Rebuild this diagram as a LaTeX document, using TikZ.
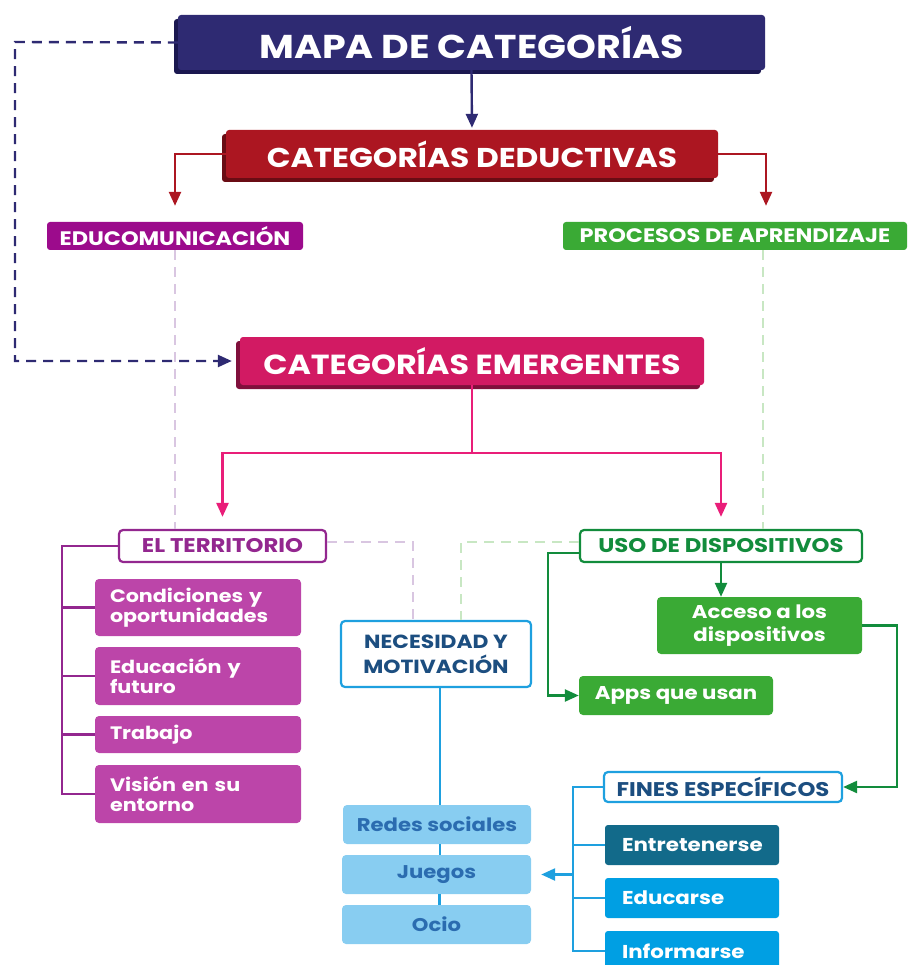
\documentclass[tikz,border=0pt]{standalone}
\usepackage{fontspec}
\setmainfont{Poppins}[FakeStretch=1.15]
\usetikzlibrary{arrows.meta,shadows,calc}
\definecolor{navy}{HTML}{2E2A72}
\definecolor{navyd}{HTML}{1B1850}
\definecolor{dred}{HTML}{AC1621}
\definecolor{dredd}{HTML}{6A0C14}
\definecolor{pinkbox}{HTML}{D21A63}
\definecolor{pinkboxd}{HTML}{80103C}
\definecolor{pinkline}{HTML}{E91E79}
\definecolor{edupurple}{HTML}{9C0B8C}
\definecolor{lgreen}{HTML}{3AAA35}
\definecolor{dgreen}{HTML}{128C3C}
\definecolor{lpurdash}{HTML}{D9C6E1}
\definecolor{lgrndash}{HTML}{C8E7C3}
\definecolor{orchid}{HTML}{BC45A9}
\definecolor{terrpur}{HTML}{93278F}
\definecolor{bline}{HTML}{1EA0DF}
\definecolor{dbtext}{HTML}{1C4E80}
\definecolor{lbfill}{HTML}{88CDF1}
\definecolor{lbtext}{HTML}{2B6CB0}
\definecolor{teal}{HTML}{126A8A}
\definecolor{bfill}{HTML}{009FE3}
\tikzset{
  bigbox/.style={rounded corners=3pt, text=white, inner sep=0pt},
  catbox/.style={rounded corners=3pt, text=white, font=\fontsize{19.5}{22}\selectfont\bfseries, inner sep=0pt},
  outbox/.style={rounded corners=4pt, fill=white, line width=2.2pt, font=\fontsize{19.8}{22}\selectfont\bfseries, inner sep=0pt},
  itembox/.style={rounded corners=4pt, fill=orchid, text=white, font=\fontsize{18}{20}\selectfont\bfseries, align=left, inner xsep=15pt, inner ysep=0pt},
  gbox/.style={rounded corners=4pt, fill=lgreen, text=white, font=\fontsize{18.5}{23}\selectfont\bfseries, align=center, inner sep=0pt},
  lbbox/.style={rounded corners=4pt, fill=lbfill, text=lbtext, font=\fontsize{18.4}{20}\selectfont\bfseries, inner sep=0pt},
  bbox/.style={rounded corners=3pt, text=white, font=\fontsize{18.6}{20}\selectfont\bfseries, align=left, inner xsep=17pt, inner ysep=0pt},
  conn/.style={line width=2.4pt},
  tip/.style={-{Triangle[width=12pt,length=14pt]}},
  dashd/.style={line width=2.4pt, dash pattern=on 10pt off 7pt},
}
\begin{document}
\begin{tikzpicture}[x=1pt,y=-1pt]
\useasboundingbox (0,0) rectangle (907,965);
% big boxes
\node[bigbox, fill=navy, minimum width=587pt, minimum height=55pt, font=\fontsize{33}{36}\selectfont\bfseries, general shadow={fill=navyd, shadow xshift=-4pt, shadow yshift=-4pt}] (title) at (471.5,42.5) {MAPA DE CATEGORÍAS};
\node[bigbox, fill=dred, minimum width=492pt, minimum height=48pt, font=\fontsize{27.2}{30}\selectfont\bfseries, general shadow={fill=dredd, shadow xshift=-4pt, shadow yshift=-4pt}] (ded) at (472,154) {CATEGORÍAS DEDUCTIVAS};
\node[bigbox, fill=pinkbox, minimum width=464pt, minimum height=48pt, font=\fontsize{27.6}{30}\selectfont\bfseries, general shadow={fill=pinkboxd, shadow xshift=-4pt, shadow yshift=-4pt}] (emer) at (472,361) {CATEGORÍAS EMERGENTES};
% category boxes
\node[catbox, fill=edupurple, minimum width=256pt, minimum height=28pt] (edu) at (175,236) {EDUCOMUNICACIÓN};
\node[catbox, fill=lgreen, minimum width=344pt, minimum height=28pt] (proc) at (735,236) {PROCESOS DE APRENDIZAJE};
% outlined boxes
\node[outbox, draw=terrpur, text=terrpur, minimum width=207pt, minimum height=32pt] (terr) at (222.5,546) {EL TERRITORIO};
\node[outbox, draw=dgreen, text=dgreen, minimum width=282pt, minimum height=32pt] (uso) at (721,546) {USO DE DISPOSITIVOS};
\node[outbox, draw=bline, text=dbtext, minimum width=190pt, minimum height=66pt, align=center, font=\fontsize{19}{25}\selectfont\bfseries] (nec) at (436,654) {NECESIDAD Y\\MOTIVACIÓN};
\node[outbox, draw=bline, text=dbtext, minimum width=238pt, minimum height=30pt] (fines) at (723,787) {FINES ESPECÍFICOS};
% territory items
\node[itembox, text width=176pt, minimum height=57pt] (cond) at (198,607.5) {Condiciones y\\oportunidades};
\node[itembox, text width=176pt, minimum height=58pt] (educ) at (198,676) {Educación y\\futuro};
\node[itembox, text width=176pt, minimum height=37pt] (trab) at (198,734.5) {Trabajo};
\node[itembox, text width=176pt, minimum height=58pt] (vis) at (198,794) {Visión en su\\entorno};
% green items
\node[gbox, minimum width=205pt, minimum height=57pt] (acc) at (759.5,625.5) {Acceso a los\\dispositivos};
\node[gbox, minimum width=194pt, minimum height=39pt] (apps) at (676,695.5) {Apps que usan};
% light blue items
\node[lbbox, minimum width=188pt, minimum height=39pt] (redes) at (437,824.5) {Redes sociales};
\node[lbbox, minimum width=189pt, minimum height=39pt] (jue) at (436.5,874.5) {Juegos};
\node[lbbox, minimum width=189pt, minimum height=39pt] (ocio) at (436.5,924.5) {Ocio};
% blue items
\node[bbox, fill=teal, text width=140pt, minimum height=40pt] (ent) at (692,845) {Entretenerse};
\node[bbox, fill=bfill, text width=140pt, minimum height=40pt] (edc) at (692,898) {Educarse};
\node[bbox, fill=bfill, text width=140pt, minimum height=40pt] (inf) at (692,951) {Informarse};
% connectors
\draw[conn, navy, tip, shorten >=2pt] (title.south) -- (ded.north);
\draw[conn, dred, tip, shorten >=16pt] (ded.west) -| (edu.north);
\draw[conn, dred, tip, shorten >=16pt] (ded.east) -| ([xshift=31pt]proc.north);
\draw[dashd, navy, tip, shorten >=8pt] (title.west) -- (15,42) |- (emer.west);
\coordinate (ej) at (emer.south |- 0,453);
\draw[conn, pinkline] (emer.south) -- (ej);
\draw[conn, pinkline, tip, shorten >=12pt] (ej) -| (terr.north);
\draw[conn, pinkline, tip, shorten >=12pt] (ej) -| (uso.north);
\draw[dashd, lpurdash] (edu.south) -- (edu.south |- terr.north);
\draw[dashd, lgrndash] ([xshift=28pt]proc.south) -- ([xshift=28pt]proc.south |- uso.north);
\draw[dashd, lpurdash] ([yshift=4pt]terr.east) -| ([xshift=-23pt]nec.north);
\draw[dashd, lgrndash] ([yshift=4pt]uso.west) -| ([xshift=25pt]nec.north);
% territory bracket
\draw[conn, terrpur] (terr.west) -- ++(-56,0) coordinate (tb) |- (vis.west);
\draw[conn, terrpur] (tb |- cond.west) -- (cond.west);
\draw[conn, terrpur] (tb |- educ.west) -- (educ.west);
\draw[conn, terrpur] (tb |- trab.west) -- (trab.west);
% uso connectors
\draw[conn, dgreen, tip] ([yshift=-7pt]uso.west) -- ++(-31,0) |- (apps.west);
\draw[conn, dgreen, tip] (uso.south) -- (uso.south |- acc.north);
\draw[conn, dgreen, tip] (acc.east) -- ++(35,0) |- (fines.east);
% fines bracket
\draw[conn, bline] (fines.west) -- ++(-30,0) coordinate (fb) |- (inf.west);
\draw[conn, bline] (fb |- ent.west) -- (ent.west);
\draw[conn, bline] (fb |- edc.west) -- (edc.west);
\draw[conn, bline, tip, shorten >=10pt] (fb |- jue.east) -- (jue.east);
% necesidad chain
\draw[conn, bline] ([xshift=4pt]nec.south) -- ([xshift=4pt]nec.south |- redes.north);
\draw[conn, bline] ([xshift=3pt]redes.south) -- ([xshift=3pt]redes.south |- jue.north);
\draw[conn, bline] ([xshift=3pt]jue.south) -- ([xshift=3pt]jue.south |- ocio.north);
\end{tikzpicture}
\end{document}
